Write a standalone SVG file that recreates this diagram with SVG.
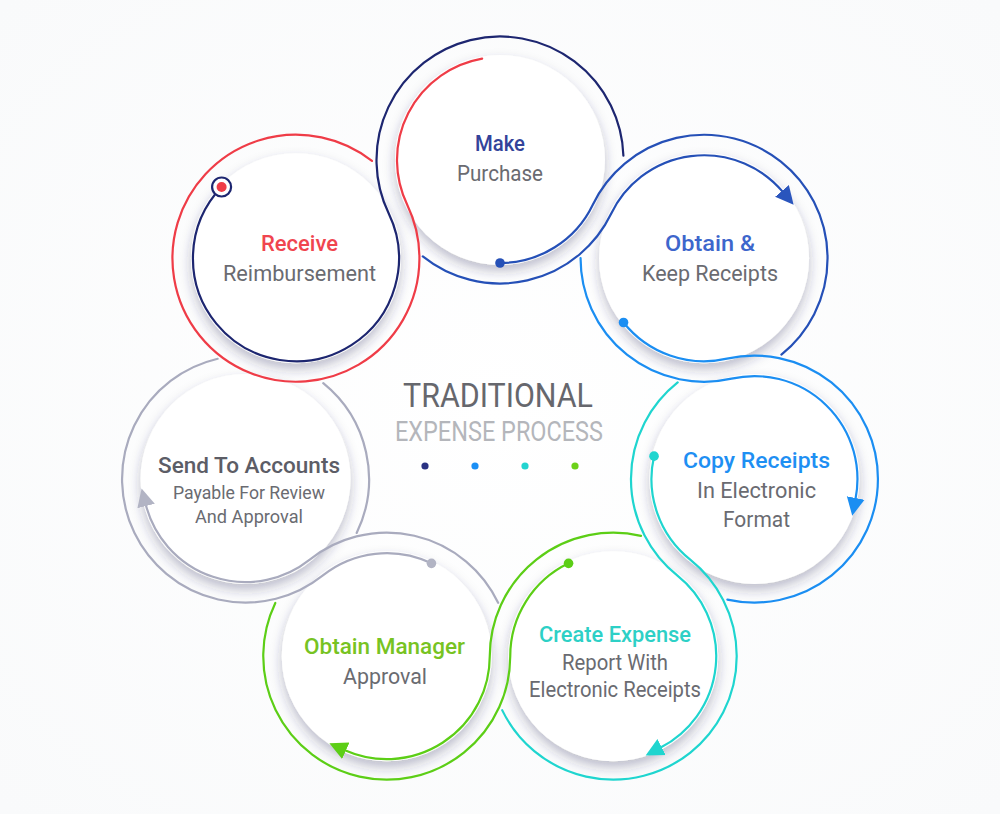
<svg xmlns="http://www.w3.org/2000/svg" width="1000" height="814" viewBox="0 0 1000 814">
  <defs>
    <radialGradient id="bg" cx="50%" cy="50%" r="70%">
      <stop offset="0" stop-color="#ffffff"/>
      <stop offset="1" stop-color="#f9fafb"/>
    </radialGradient>
    <filter id="shadow" x="-30%" y="-30%" width="160%" height="170%">
      <feDropShadow dx="0" dy="6" stdDeviation="6" flood-color="#262b5a" flood-opacity="0.3"/>
    </filter>
    <marker id="arrDB" markerUnits="userSpaceOnUse" markerWidth="20" markerHeight="20" viewBox="0 -10 20 20" refX="1" refY="0" orient="auto">
      <path d="M0,-9 L18,0 L0,9 Z" fill="#2a55bd"/>
    </marker>
    <marker id="arrBB" markerUnits="userSpaceOnUse" markerWidth="20" markerHeight="20" viewBox="0 -10 20 20" refX="1" refY="0" orient="auto">
      <path d="M0,-9 L18,0 L0,9 Z" fill="#1b8ef2"/>
    </marker>
    <marker id="arrCy" markerUnits="userSpaceOnUse" markerWidth="20" markerHeight="20" viewBox="0 -10 20 20" refX="1" refY="0" orient="auto">
      <path d="M0,-9 L18,0 L0,9 Z" fill="#1fd5cf"/>
    </marker>
    <marker id="arrGr" markerUnits="userSpaceOnUse" markerWidth="20" markerHeight="20" viewBox="0 -10 20 20" refX="1" refY="0" orient="auto">
      <path d="M0,-9 L18,0 L0,9 Z" fill="#5cce16"/>
    </marker>
    <marker id="arrGy" markerUnits="userSpaceOnUse" markerWidth="20" markerHeight="20" viewBox="0 -10 20 20" refX="1" refY="0" orient="auto">
      <path d="M0,-9 L18,0 L0,9 Z" fill="#b2b4c4"/>
    </marker>
  </defs>
  <style>
    .disc { fill: #ffffff; filter: url(#shadow); }
    .ln { fill: none; stroke-width: 2.2; stroke-linecap: round; }
    .navy { stroke: #1d2670; }
    .red { stroke: #ef3c47; }
    .db { stroke: #2550b7; }
    .bb { stroke: #1b8ef2; }
    .cy { stroke: #1fd5cf; }
    .gr { stroke: #5cce16; }
    .gy { stroke: #a9abbe; }
    .h { font-family: Roboto, "Liberation Sans", sans-serif; font-size: 22px; font-weight: 500; text-anchor: middle; }
    .b { font-family: Roboto, "Liberation Sans", sans-serif; font-size: 22px; font-weight: 400; fill: #6a6b71; text-anchor: middle; }
    .s { font-family: Roboto, "Liberation Sans", sans-serif; font-size: 19px; font-weight: 400; fill: #6a6b71; text-anchor: middle; }
  </style>
  <rect width="1000" height="814" fill="url(#bg)"/>

  <g id="node-make">
    <circle class="disc" cx="500" cy="160" r="105"/>
  </g>
  <g id="node-obtain">
    <circle class="disc" cx="704.06" cy="258.27" r="105"/>
  </g>
  <g id="node-copy">
    <circle class="disc" cx="754.46" cy="479.08" r="105"/>
  </g>
  <g id="node-create">
    <circle class="disc" cx="613.24" cy="656.15" r="105"/>
  </g>
  <g id="node-manager">
    <circle class="disc" cx="386.76" cy="656.15" r="105"/>
  </g>
  <g id="node-send">
    <circle class="disc" cx="245.54" cy="479.08" r="105"/>
  </g>
  <g id="node-receive">
    <circle class="disc" cx="295.94" cy="258.27" r="105"/>
  </g>

  <g id="connectors">
    <!-- Receive -> Make -->
    <path class="ln navy" d="M221.60,186.98 A103 103 0 1 0 388.74,213.58 A123.49 123.49 0 1 1 623.41,155.69"/>
    <path class="ln red" d="M371.97,160.96 A123.49 123.49 0 1 0 407.20,204.69 A103 103 0 0 1 482.11,58.56"/>
    <!-- Make -> Obtain -->
    <path class="ln db" d="M500,263 A103 103 0 0 0 592.80,204.69 A123.49 123.49 0 1 1 781.39,354.55"/>
    <path class="ln db" marker-end="url(#arrDB)" d="M422.79,256.38 A123.49 123.49 0 0 0 611.26,213.58 A103 103 0 0 1 782.62,191.66"/>
    <!-- Obtain -> Copy -->
    <path class="ln bb" d="M623.53,322.49 A103 103 0 0 0 726.98,358.68 A123.49 123.49 0 1 1 727.39,599.57"/>
    <path class="ln bb" marker-end="url(#arrBB)" d="M580.56,257.98 A123.49 123.49 0 0 0 731.54,378.66 A103 103 0 0 1 855.51,498.97"/>
    <!-- Copy -> Create -->
    <path class="ln cy" d="M654.04,456.16 A103 103 0 0 0 690.24,559.60 A123.49 123.49 0 1 1 502.16,710.13"/>
    <path class="ln cy" marker-end="url(#arrCy)" d="M677.68,382.35 A123.49 123.49 0 0 0 677.46,575.63 A103 103 0 0 1 660.70,747.56"/>
    <!-- Create -> Manager -->
    <path class="ln gr" d="M568.55,563.35 A103 103 0 0 0 510.24,656.15 A123.49 123.49 0 1 1 275.31,602.96"/>
    <path class="ln gr" marker-end="url(#arrGr)" d="M641.00,535.83 A123.49 123.49 0 0 0 489.76,656.15 A103 103 0 0 1 344.88,750.25"/>
    <!-- Manager -> Send -->
    <path class="ln gy" d="M431.45,563.35 A103 103 0 0 0 322.54,575.63 A123.49 123.49 0 1 1 217.65,358.78"/>
    <path class="ln gy" marker-end="url(#arrGy)" d="M498.14,602.83 A123.49 123.49 0 0 0 309.76,559.61 A103 103 0 0 1 145.86,505.01"/>
    <!-- Send right arc -->
    <path class="ln gy" d="M356.66,532.94 A123.49 123.49 0 0 0 323.25,383.11"/>

    <!-- start dots -->
    <circle cx="500" cy="263" r="4.8" fill="#2550b7"/>
    <circle cx="623.53" cy="322.49" r="4.8" fill="#1b8ef2"/>
    <circle cx="654.04" cy="456.16" r="4.8" fill="#1fd5cf"/>
    <circle cx="568.55" cy="563.35" r="4.8" fill="#5cce16"/>
    <circle cx="431.45" cy="563.35" r="4.8" fill="#b2b4c4"/>
    <circle cx="221.6" cy="186.98" r="9.5" fill="#ffffff" stroke="#1d2670" stroke-width="2.2"/>
    <circle cx="221.6" cy="186.98" r="5" fill="#ef3c47"/>
  </g>

  <g id="labels">
    <text class="h" x="500" y="150.5" fill="#33439a" textLength="50" lengthAdjust="spacingAndGlyphs">Make</text>
    <text class="b" x="500" y="180.5" textLength="86" lengthAdjust="spacingAndGlyphs">Purchase</text>

    <text class="h" x="710" y="250.5" fill="#3d66cc" textLength="90" lengthAdjust="spacingAndGlyphs">Obtain &amp;</text>
    <text class="b" x="710" y="280.5" textLength="136" lengthAdjust="spacingAndGlyphs">Keep Receipts</text>

    <text class="h" x="756.5" y="468" fill="#1e8ff3" textLength="147" lengthAdjust="spacingAndGlyphs">Copy Receipts</text>
    <text class="b" x="756.5" y="497.5" textLength="119" lengthAdjust="spacingAndGlyphs">In Electronic</text>
    <text class="b" x="756.5" y="526.5" textLength="67" lengthAdjust="spacingAndGlyphs">Format</text>

    <text class="h" x="615" y="641.5" fill="#2dd0c6" textLength="152" lengthAdjust="spacingAndGlyphs">Create Expense</text>
    <text class="b" x="615" y="669.5" textLength="106" lengthAdjust="spacingAndGlyphs">Report With</text>
    <text class="b" x="615" y="697" textLength="172" lengthAdjust="spacingAndGlyphs">Electronic Receipts</text>

    <text class="h" x="384.5" y="654" fill="#77c322" textLength="161" lengthAdjust="spacingAndGlyphs">Obtain Manager</text>
    <text class="b" x="385" y="683.5" textLength="84" lengthAdjust="spacingAndGlyphs">Approval</text>

    <text class="h" x="249" y="473.3" fill="#5c5d66" textLength="182" lengthAdjust="spacingAndGlyphs">Send To Accounts</text>
    <text class="s" x="249" y="498.5" textLength="152" lengthAdjust="spacingAndGlyphs">Payable For Review</text>
    <text class="s" x="249" y="523.3" textLength="108" lengthAdjust="spacingAndGlyphs">And Approval</text>

    <text class="h" x="299.5" y="250.7" fill="#f0454f" textLength="77" lengthAdjust="spacingAndGlyphs">Receive</text>
    <text class="b" x="299.5" y="280.7" textLength="153" lengthAdjust="spacingAndGlyphs">Reimbursement</text>
  </g>

  <g id="title">
    <text x="498" y="406.7" font-family="Roboto, 'Liberation Sans', sans-serif" font-size="34" font-weight="400" fill="#66676d" text-anchor="middle" textLength="190" lengthAdjust="spacingAndGlyphs">TRADITIONAL</text>
    <text x="499" y="441" font-family="Roboto, 'Liberation Sans', sans-serif" font-size="28.5" font-weight="400" fill="#b4b6bb" text-anchor="middle" textLength="208" lengthAdjust="spacingAndGlyphs">EXPENSE PROCESS</text>
    <circle cx="425" cy="466" r="3.6" fill="#2a3282"/>
    <circle cx="475" cy="466" r="3.6" fill="#1a8ff5"/>
    <circle cx="525" cy="466" r="3.6" fill="#22d4d0"/>
    <circle cx="575" cy="466" r="3.6" fill="#6cd11a"/>
  </g>
</svg>
